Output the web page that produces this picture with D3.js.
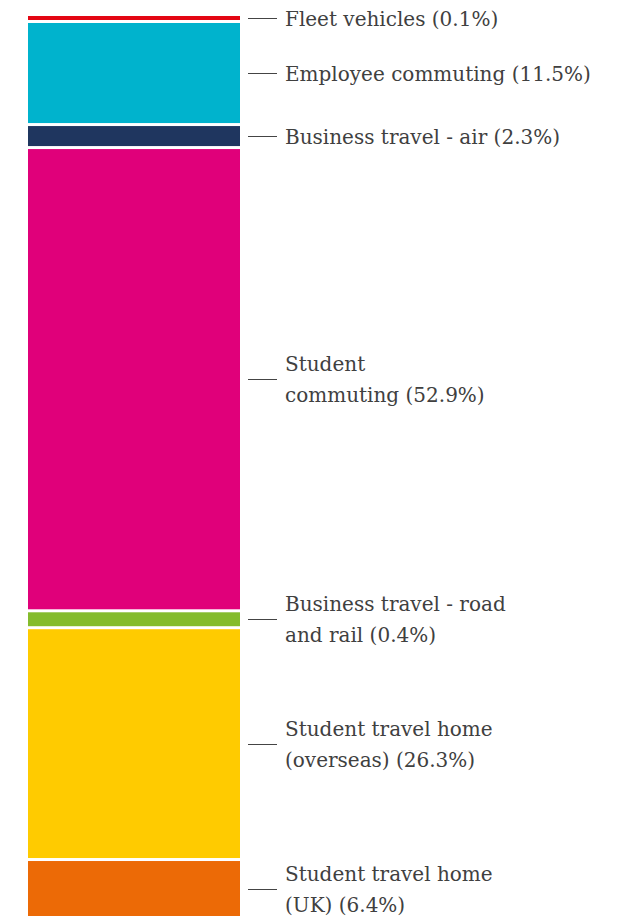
<!DOCTYPE html>
<html>
<head>
<meta charset="utf-8">
<script src="https://cdnjs.cloudflare.com/ajax/libs/d3/7.8.5/d3.min.js"></script>
<style>
    html, body { margin: 0; padding: 0; background: #fff; }
    svg { display: block; }
</style>
</head>
<body>
<div id="chart"></div>
<script>
// segment names, label text (percent shown) and bar share
var categories = ['Fleet vehicles', 'Employee commuting', 'Business travel - air', 'Student commuting',
    'Business travel - road and rail', 'Student travel home (overseas)', 'Student travel home (UK)'];
var labelLines = [
    ['Fleet vehicles (0.1%)'],
    ['Employee commuting (11.5%)'],
    ['Business travel - air (2.3%)'],
    ['Student', 'commuting (52.9%)'],
    ['Business travel - road', 'and rail (0.4%)'],
    ['Student travel home', '(overseas) (26.3%)'],
    ['Student travel home', '(UK) (6.4%)']
];
var barValues = [0.46, 11.5, 2.3, 52.9, 1.6, 26.3, 6.4];
var colors = ['#e30613', '#00b3cd', '#1f365f', '#e0007a', '#84bc2c', '#ffcb00', '#ec6a06'];

var width = 620,
    height = 916;

var margin = {
    top: 16,
    left: 28
};

var barWidth = 212,
    gap = 3,
    lineHeight = 30.5;

var svg = d3.select('#chart').append('svg')
    .attr('width', width)
    .attr('height', height);

var y = d3.scaleLinear()
    .domain([0, 100])
    .range([0, 870]);

var cum = 0;
var segments = barValues.map(function (v, i) {
    var s = {
        name: categories[i],
        value: v,
        y0: margin.top + y(cum) + i * gap,
        h: y(v) - y(0),
        color: colors[i],
        lines: labelLines[i]
    };
    cum += v;
    return s;
});

var g = svg.append('g');

g.selectAll('rect.seg')
    .data(segments)
    .enter().append('rect')
    .attr('class', 'seg')
    .attr('x', margin.left)
    .attr('y', function (d) { return d.y0; })
    .attr('width', barWidth)
    .attr('height', function (d) { return d.h; })
    .attr('fill', function (d) { return d.color; });

var labels = g.selectAll('g.label')
    .data(segments)
    .enter().append('g')
    .attr('class', 'label')
    .attr('transform', function (d) {
        return 'translate(0,' + (Math.round(d.y0 + d.h / 2) + 0.5) + ')';
    });

labels.append('line')
    .attr('x1', margin.left + barWidth + 8)
    .attr('x2', margin.left + barWidth + 37)
    .attr('y1', 0)
    .attr('y2', 0)
    .attr('stroke', '#444')
    .attr('stroke-width', 1)
    .attr('shape-rendering', 'crispEdges');

labels.each(function (d) {
    var n = d.lines.length;
    var t = d3.select(this).append('text')
        .attr('x', margin.left + barWidth + 45)
        .attr('fill', '#404040')
        .style('font-family', '"DejaVu Serif", serif')
        .style('font-size', '20px');
    d.lines.forEach(function (line, k) {
        t.append('tspan')
            .attr('x', margin.left + barWidth + 45)
            .attr('y', (k - (n - 1) / 2) * lineHeight + 7)
            .text(line);
    });
});
</script>
</body>
</html>
